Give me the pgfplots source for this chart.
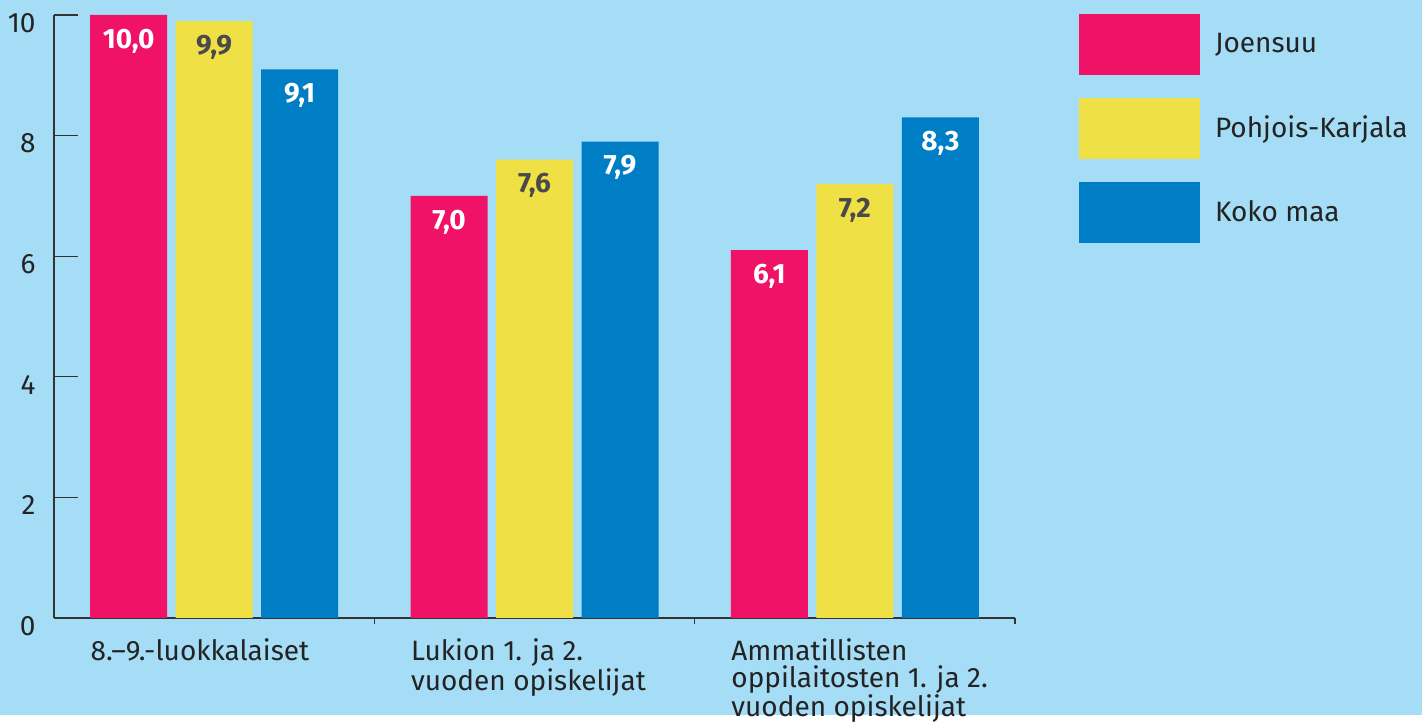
\documentclass[border=0pt]{standalone}
\usepackage{pgfplots}
\pgfplotsset{compat=1.18}
\usepackage{fontspec}
\setmainfont{Fira Sans}
\definecolor{bg}{HTML}{A5DDF6}
\definecolor{cpink}{HTML}{EF1267}
\definecolor{cyellow}{HTML}{EFE145}
\definecolor{cblue}{HTML}{007EC5}
\definecolor{txt}{HTML}{232323}
\definecolor{axcol}{HTML}{333333}
\definecolor{valgray}{HTML}{4A4A4A}
\begin{document}
\begin{tikzpicture}
\fill[bg] (0,0) rectangle (711pt,357.5pt);
\begin{axis}[
  at={(27pt,48.5pt)}, anchor=south west,
  scale only axis, width=480.5pt, height=301.5pt,
  xmin=-0.5, xmax=2.5, ymin=0, ymax=10,
  axis x line*=bottom, axis y line*=left,
  axis line style={draw=axcol, line width=0.6pt},
  every tick/.style={draw=axcol, line width=0.6pt},
  tick align=inside,
  major tick length=12pt,
  ybar=4.25pt, bar width=38.5pt,
  ytick={0,2,4,6,8,10},
  yticklabel style={font=\fontsize{14pt}{16pt}\selectfont, text=txt, inner sep=0pt, anchor=east, xshift=-9pt, yshift=-4pt},
  /pgf/number format/assume math mode=true,
  xtick=\empty,
  extra x ticks={0.5,1.5,2.5},
  extra x tick labels={{8.--9.-luokkalaiset},{Lukion 1. ja 2.\\vuoden opiskelijat},{Ammatillisten\\oppilaitosten 1. ja 2.\\vuoden opiskelijat}},
  extra x tick style={major tick length=3pt, xticklabel style={font=\fontsize{14pt}{13.4pt}\selectfont, text=txt, align=left, inner sep=0pt, anchor=north west, xshift=-142pt, yshift=-7pt}},
  point meta=explicit symbolic,
  nodes near coords,
  every node near coord/.append style={font=\fontsize{14pt}{16pt}\selectfont\bfseries, anchor=center, yshift=-13pt},
  legend style={at={(axis description cs:1.0666,1.0017)}, anchor=north west, draw=none, fill=none, inner sep=0pt, outer sep=0pt, font=\fontsize{14pt}{16pt}\selectfont, text=txt, row sep=11.5pt, nodes={inner sep=0pt}, /tikz/every odd column/.append style={column sep=7.5pt}},
  legend cell align=left,
  legend image code/.code={\fill[#1] (0pt,-15.25pt) rectangle (60.5pt,15.25pt);},
]
\addplot[fill=cpink, draw=none, nodes near coords style={text=white}] coordinates {(0,10.0)[10,0] (1,7.0)[7,0] (2,6.1)[6,1]};
\addplot[fill=cyellow, draw=none, nodes near coords style={text=valgray}] coordinates {(0,9.9)[9,9] (1,7.6)[7,6] (2,7.2)[7,2]};
\addplot[fill=cblue, draw=none, nodes near coords style={text=white}] coordinates {(0,9.1)[9,1] (1,7.9)[7,9] (2,8.3)[8,3]};
\legend{Joensuu, Pohjois-Karjala, Koko maa}
\end{axis}
\end{tikzpicture}
\end{document}
